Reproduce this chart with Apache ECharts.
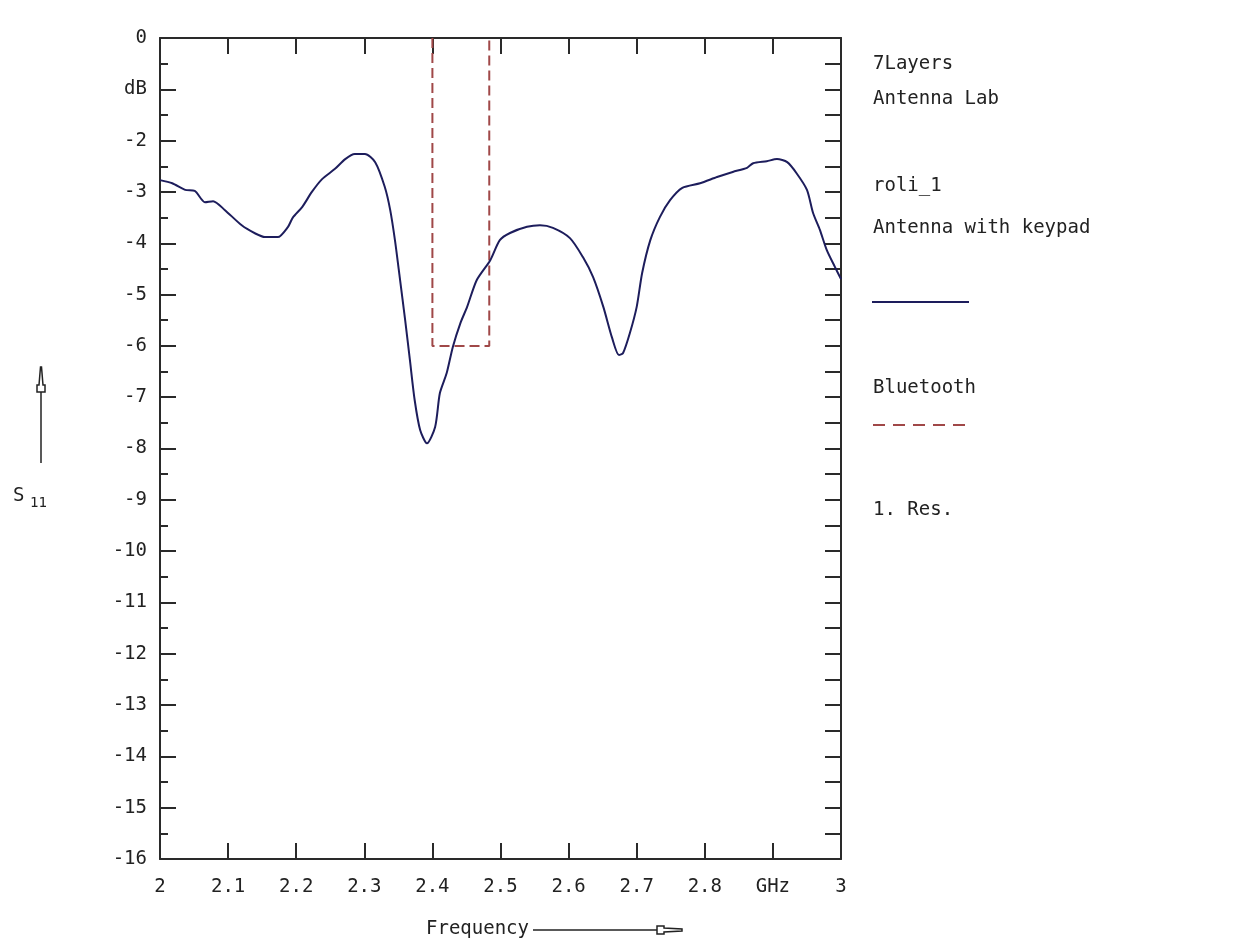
<!DOCTYPE html>
<html>
<head>
<meta charset="utf-8">
<script src="https://cdn.jsdelivr.net/npm/echarts@6/dist/echarts.min.js"></script>
<style>
  html, body { margin: 0; padding: 0; background: #ffffff; }
  #main { width: 1259px; height: 942px; }
</style>
</head>
<body>
<div id="main"></div>
<script>
var freqGHz = [2.000, 2.018, 2.037, 2.051, 2.066, 2.078, 2.095, 2.120, 2.140, 2.154, 2.173, 2.188, 2.195,
  2.209, 2.223, 2.238, 2.257, 2.272, 2.286, 2.301, 2.316, 2.330, 2.338, 2.345, 2.352, 2.360, 2.367, 2.374,
  2.382, 2.392, 2.404, 2.411, 2.421, 2.430, 2.441, 2.451, 2.465, 2.485, 2.499, 2.514, 2.539, 2.558, 2.577,
  2.602, 2.621, 2.636, 2.651, 2.664, 2.674, 2.680, 2.690, 2.700, 2.708, 2.720, 2.734, 2.749, 2.767, 2.793,
  2.818, 2.841, 2.862, 2.871, 2.891, 2.906, 2.921, 2.935, 2.950, 2.959, 2.969, 2.979, 2.991, 3.000];
var s11dB = [-2.77, -2.83, -2.96, -2.98, -3.20, -3.18, -3.35, -3.65, -3.81, -3.88, -3.88, -3.68, -3.50,
  -3.29, -3.00, -2.75, -2.55, -2.36, -2.26, -2.26, -2.42, -2.90, -3.35, -3.94, -4.66, -5.50, -6.28, -7.06,
  -7.64, -7.90, -7.58, -6.92, -6.53, -6.02, -5.56, -5.24, -4.72, -4.33, -3.94, -3.80, -3.68, -3.65, -3.70,
  -3.90, -4.27, -4.66, -5.24, -5.85, -6.18, -6.14, -5.75, -5.24, -4.58, -3.94, -3.49, -3.16, -2.92, -2.83,
  -2.71, -2.61, -2.53, -2.44, -2.40, -2.36, -2.42, -2.64, -2.96, -3.41, -3.74, -4.13, -4.46, -4.70];

// Bluetooth band limit box
var btBand = [2.4, 2.4835];
var btLevel = -6;

var xTickLabels = ['2', '2.1', '2.2', '2.3', '2.4', '2.5', '2.6', '2.7', '2.8', 'GHz', '3'];
var yTickLabels = ['0', 'dB', '-2', '-3', '-4', '-5', '-6', '-7', '-8', '-9', '-10', '-11', '-12', '-13', '-14', '-15', '-16'];

var notes = ['7Layers', 'Antenna Lab', 'roli_1', 'Antenna with keypad', 'Bluetooth', '1. Res.'];

var FONT = 'DejaVu Sans Mono';
var FS = 19;
var INK = '#2a2a2a';
var CURVE = '#1d1d5c';
var BAND = '#a04848';

var chartDom = document.getElementById('main');
var myChart = echarts.init(chartDom);

var curveData = freqGHz.map(function (f, i) { return [f, s11dB[i]]; });
var boxData = [[btBand[0], 0], [btBand[0], btLevel], [btBand[1], btLevel], [btBand[1], 0]];

var axisLine = { show: true, onZero: false, lineStyle: { color: INK, width: 2 } };
var tick = { show: true, inside: true, length: 16, lineStyle: { color: INK, width: 2 } };

function textEl(str, x, y, size) {
  return {
    type: 'text', x: x, y: y,
    style: { text: str, font: (size || FS) + 'px "' + FONT + '"', fill: '#222', verticalAlign: 'middle', align: 'left' }
  };
}

var option = {
  animation: false,
  backgroundColor: '#ffffff',
  grid: { left: 160, right: 418, top: 38, bottom: 83 },
  xAxis: [
    {
      type: 'value', min: 2, max: 3, interval: 0.1, position: 'bottom',
      axisLine: axisLine, axisTick: tick, splitLine: { show: false },
      axisLabel: {
        margin: 19, fontFamily: FONT, fontSize: FS, color: '#222',
        showMinLabel: true, showMaxLabel: true,
        formatter: function (v) { return xTickLabels[Math.round((v - 2) * 10)]; }
      }
    },
    {
      type: 'value', min: 2, max: 3, interval: 0.1, position: 'top',
      axisLine: axisLine, axisTick: tick, splitLine: { show: false },
      axisLabel: { show: false }
    }
  ],
  yAxis: [
    {
      type: 'value', min: -16, max: 0, interval: 1, position: 'left',
      axisLine: axisLine, axisTick: tick, splitLine: { show: false },
      minorTick: { show: true, splitNumber: 2, length: 8, lineStyle: { color: INK, width: 2 } },
      axisLabel: {
        margin: 13, fontFamily: FONT, fontSize: FS, color: '#222',
        formatter: function (v) { return yTickLabels[Math.round(-v)]; }
      }
    },
    {
      type: 'value', min: -16, max: 0, interval: 0.5, position: 'right',
      axisLine: axisLine, axisTick: tick, splitLine: { show: false },
      axisLabel: { show: false }
    }
  ],
  series: [
    {
      name: 'Bluetooth', type: 'line', data: boxData, showSymbol: false,
      lineStyle: { color: BAND, width: 2, type: [10, 5] }, z: 2
    },
    {
      name: 'roli_1', type: 'line', data: curveData, showSymbol: false, smooth: 0.25,
      lineStyle: { color: CURVE, width: 2 }, z: 3
    }
  ],
  graphic: [
    textEl(notes[0], 873, 64),
    textEl(notes[1], 873, 99),
    textEl(notes[2], 873, 186),
    textEl(notes[3], 873, 228),
    { type: 'line', shape: { x1: 872, y1: 302, x2: 969, y2: 302 }, style: { stroke: CURVE, lineWidth: 2 } },
    textEl(notes[4], 873, 388),
    { type: 'line', shape: { x1: 873, y1: 425, x2: 966, y2: 425 }, style: { stroke: BAND, lineWidth: 2, lineDash: [12, 8] } },
    textEl(notes[5], 873, 510),
    // y axis name S11 with arrow
    textEl('S', 13, 496),
    textEl('11', 30, 503, 14),
    { type: 'line', shape: { x1: 41, y1: 463, x2: 41, y2: 392 }, style: { stroke: '#222', lineWidth: 1.5 } },
    { type: 'polygon', shape: { points: [[37, 392], [45, 392], [45, 385], [43, 385], [41.5, 367], [40.5, 367], [39, 385], [37, 385]] },
      style: { fill: 'none', stroke: '#222', lineWidth: 1.5 } },
    // x axis name
    textEl('Frequency', 426, 929),
    { type: 'line', shape: { x1: 533, y1: 930, x2: 657, y2: 930 }, style: { stroke: '#222', lineWidth: 1.5 } },
    { type: 'polygon', shape: { points: [[657, 926], [657, 934], [664, 934], [664, 932], [682, 931], [682, 929], [664, 928], [664, 926]] },
      style: { fill: 'none', stroke: '#222', lineWidth: 1.5 } }
  ]
};

option && myChart.setOption(option);
</script>
</body>
</html>
